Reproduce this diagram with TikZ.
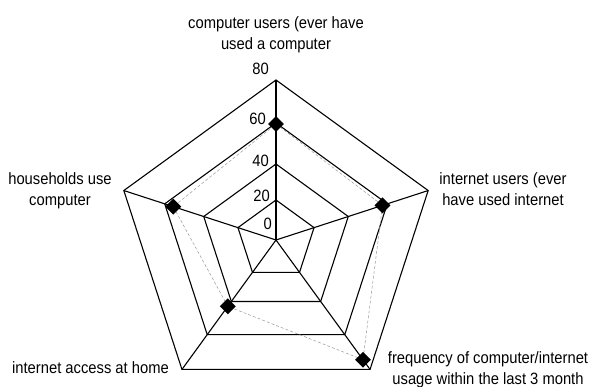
\documentclass[tikz,border=0pt]{standalone}
\usepackage{fontspec}
\setmainfont[FakeStretch=0.9]{Liberation Sans}
\usetikzlibrary{shapes.geometric}
\begin{document}
\begin{tikzpicture}[x=1pt,y=1pt,
  gridline/.style={draw=black,line width=1.1pt,line join=miter},
  axisline/.style={draw=black,line width=1.1pt},
  dataline/.style={draw=gray!80,dashed,line width=0.5pt,dash pattern=on 3pt off 2pt},
  datapt/.style={diamond,fill=black,inner sep=0pt,minimum size=16pt},
  lbl/.style={font=\fontsize{16.4}{21}\selectfont,align=center,inner sep=0pt},
  ticklbl/.style={font=\fontsize{16.4}{17}\selectfont,inner sep=0pt,anchor=base east}]
\useasboundingbox (-276,-147) rectangle (313,240);
% grid vertices
\foreach \r [count=\j] in {40,76,117,160}{
  \foreach \a [count=\i] in {90,18,-54,-126,162}{
    \coordinate (g\j-\i) at (\a:\r);
  }
}
\coordinate (c) at (0,0);
% grid pentagons
\foreach \j in {1,2,3,4}{
  \draw[gridline] (g\j-1) -- (g\j-2) -- (g\j-3) -- (g\j-4) -- (g\j-5) -- cycle;
}
% axes
\foreach \i in {1,...,5}{
  \draw[axisline] (c) -- (g4-\i);
}
% data points
\coordinate (p1) at (90:116);
\coordinate (p2) at (18:112);
\coordinate (p3) at (-54:148);
\coordinate (p4) at (-126:82);
\coordinate (p5) at (162:108);
\draw[dataline] (p1) -- (p2) -- (p3) -- (p4) -- (p5) -- cycle;
\foreach \i in {1,...,5}{
  \node[datapt] (d\i) at (p\i) {};
}
% tick labels
\node[ticklbl] (t0) at (-4,10) {0};
\node[ticklbl] (t20) at (-6,38) {20};
\node[ticklbl] (t40) at (-7,73) {40};
\node[ticklbl] (t60) at (-10,115) {60};
\node[ticklbl] (t80) at (-7,165) {80};
% axis labels
\node[lbl] (lt) at (0,205.5) {computer users (ever have\\used a computer};
\node[lbl] (lr) at (227,51) {internet users (ever\\have used internet};
\node[lbl] (ll) at (-216,49) {households use\\computer};
\node[lbl] (lbl1) at (-185.5,-128) {internet access at home};
\node[lbl] (lbr) at (212,-130) {frequency of computer/internet\\usage within the last 3 month};
\end{tikzpicture}
\end{document}
